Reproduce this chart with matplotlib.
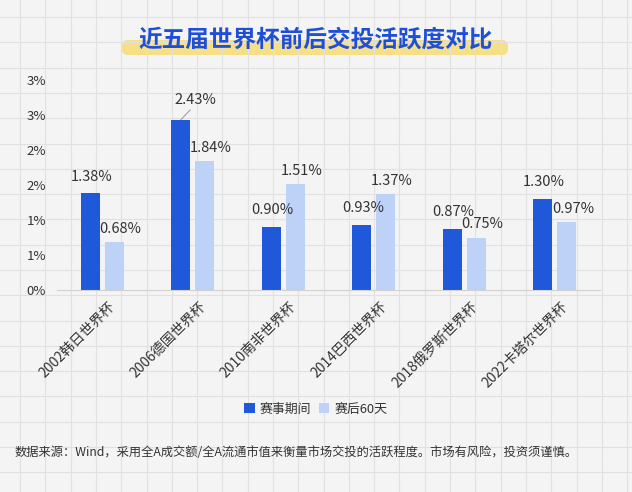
import numpy as np
import matplotlib.pyplot as plt
import matplotlib.transforms as mtransforms
from matplotlib.patches import FancyBboxPatch
from matplotlib.ticker import FuncFormatter

plt.rcParams['font.family'] = ['Noto Sans CJK SC', 'DejaVu Sans']

categories = ['2002韩日世界杯', '2006德国世界杯', '2010南非世界杯',
              '2014巴西世界杯', '2018俄罗斯世界杯', '2022卡塔尔世界杯']
during = [1.38, 2.43, 0.90, 0.93, 0.87, 1.30]
after60 = [0.68, 1.84, 1.51, 1.37, 0.75, 0.97]
series_names = ['赛事期间', '赛后60天']

dark = '#1f58d9'
light = '#bdd2f6'
txt = '#333333'

fig = plt.figure(figsize=(6.32, 4.92), dpi=100)
fig.patch.set_facecolor('#f4f4f4')

# grid-paper background
bg = fig.add_axes([0, 0, 1, 1], zorder=-10)
bg.set_xlim(0, 632)
bg.set_ylim(492, 0)
bg.set_facecolor('#f4f4f4')
for gx in np.arange(20, 632, 25.3):
    bg.axvline(gx, color='#e1e1e1', lw=0.8)
for gy in np.arange(17, 492, 25.3):
    bg.axhline(gy, color='#e1e1e1', lw=0.8)
bg.axis('off')

# yellow highlight + title
bg.add_patch(FancyBboxPatch((122, 40), 386, 15, boxstyle='round,pad=0,rounding_size=6',
                            fc='#f6df86', ec='none'))
bg.text(316, 40, '近五届世界杯前后交投活跃度对比', ha='center', va='center',
        fontsize=17, fontweight='bold', color='#1f4fd6')

ax = fig.add_axes([57 / 632, 1 - 290 / 492, 543 / 632, 210 / 492])
ax.set_facecolor('none')
x = np.arange(len(categories))
w = 0.21
off = 0.133
ax.bar(x - off, during, w, color=dark, label=series_names[0])
ax.bar(x + off, after60, w, color=light, label=series_names[1])

ax.set_xlim(-0.5, 5.5)
ax.set_ylim(0, 3.0)
ax.set_yticks(np.arange(0, 3.01, 0.5))
ax.yaxis.set_major_formatter(FuncFormatter(lambda v, p: f'{int(v + 0.5)}%'))
for s in ['top', 'right', 'left']:
    ax.spines[s].set_visible(False)
ax.spines['bottom'].set_color('#d0d0d0')
ax.tick_params(axis='y', length=0, labelsize=9.5, labelcolor=txt, pad=8)
ax.tick_params(axis='x', length=0, labelsize=10, labelcolor=txt, pad=4)
ax.set_xticks(x)
ax.set_xticklabels(categories, rotation=45, ha='right', rotation_mode='anchor')
shift = mtransforms.ScaledTranslation(0.06, -0.04, fig.dpi_scale_trans)
for lab in ax.get_xticklabels():
    lab.set_transform(lab.get_transform() + shift)

for i, v in enumerate(during):
    if i == 1:
        ax.annotate(f'{v:.2f}%', (x[i] - off, v), xytext=(10.5, 14.5), textcoords='offset points',
                    ha='center', va='center', fontsize=10.5, color=txt,
                    arrowprops=dict(arrowstyle='-', color='#999999', lw=0.7, patchA=None,
                                    relpos=(0.45, 0.0), shrinkA=3, shrinkB=0))
    else:
        ax.annotate(f'{v:.2f}%', (x[i] - off, v), xytext=(1, 12), textcoords='offset points',
                    ha='center', va='center', fontsize=10.5, color=txt)
for i, v in enumerate(after60):
    ax.annotate(f'{v:.2f}%', (x[i] + off, v), xytext=(4.5, 9.5), textcoords='offset points',
                ha='center', va='center', fontsize=10.5, color=txt)

fig.legend(loc='center', bbox_to_anchor=(0.5, 1 - 409 / 492), ncol=2, frameon=False,
           fontsize=9.3, handlelength=0.8, handleheight=0.8, handletextpad=0.4,
           columnspacing=0.6, labelcolor=txt)

fig.text(15 / 632, 1 - 452 / 492,
         '数据来源：Wind，采用全A成交额/全A流通市值来衡量市场交投的活跃程度。市场有风险，投资须谨慎。',
         ha='left', va='center', fontsize=8.8, color=txt)

fig.savefig('out.png', dpi=100, facecolor=fig.get_facecolor())
